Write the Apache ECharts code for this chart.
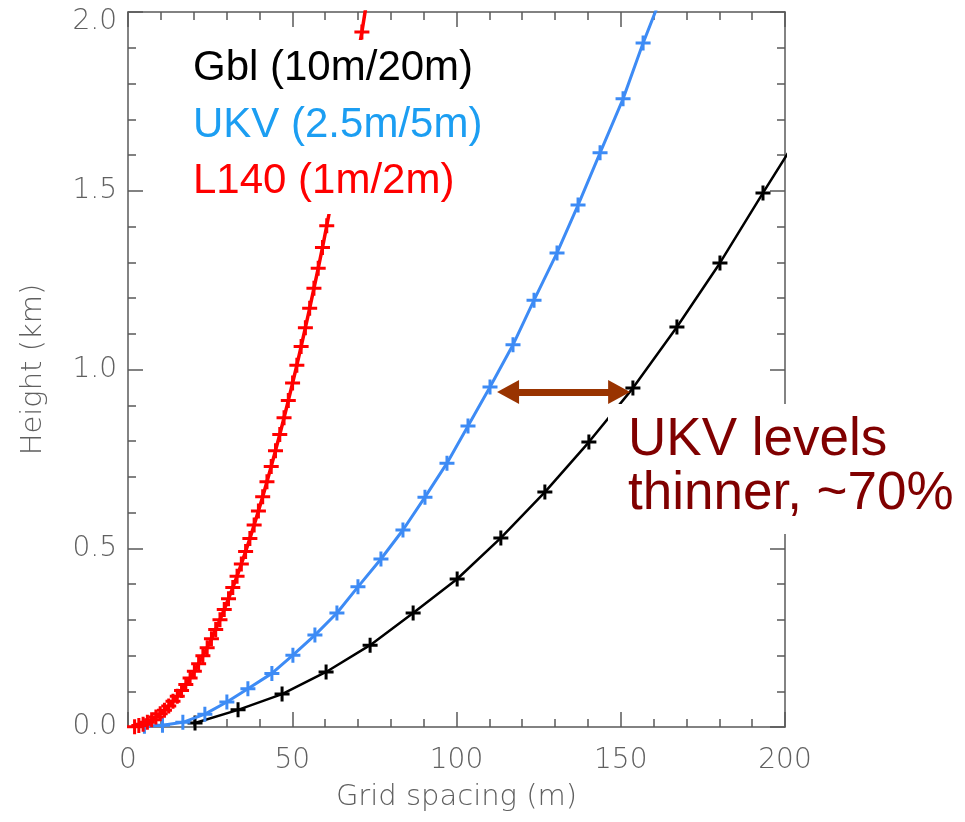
<!DOCTYPE html>
<html>
<head>
<meta charset="utf-8">
<script src="https://cdn.jsdelivr.net/npm/echarts@6/dist/echarts.min.js"></script>
<style>html,body{margin:0;padding:0;background:#fff}#c{width:965px;height:822px}</style>
</head>
<body>
<div id="c"></div>
<script>
// ---- data (grid spacing in m, height in km) ----
const gblX = [20.4, 33.5, 46.9, 60.3, 73.7, 86.8, 100.2, 113.5, 126.9, 140.3, 153.7, 167.1, 180.2, 193.3, 206.7];
const gblH = [0.011, 0.048, 0.092, 0.154, 0.229, 0.319, 0.414, 0.529, 0.657, 0.797, 0.948, 1.119, 1.298, 1.494, 1.690];

const ukvX = [5.0, 10.5, 16.7, 23.4, 30.1, 36.5, 43.8, 50.2, 56.9, 63.6, 70.0, 77.0, 83.7, 90.4, 97.1, 103.5, 110.2, 117.2, 123.6, 130.6, 137.0, 143.7, 150.7, 156.8, 163.5];
const ukvH = [0.002, 0.005, 0.013, 0.036, 0.070, 0.107, 0.150, 0.201, 0.257, 0.319, 0.392, 0.470, 0.551, 0.643, 0.738, 0.842, 0.951, 1.069, 1.194, 1.326, 1.460, 1.606, 1.757, 1.913, 2.070];

const l140X = [2.0, 3.3, 4.6, 5.9, 7.2, 8.5, 9.8, 11.1, 12.4, 13.7, 15.0, 16.3, 17.6, 18.9, 20.2, 21.5, 22.8, 24.1, 25.4, 26.7, 28.0, 29.3, 30.6, 31.9, 33.2, 34.5, 35.8, 37.1, 38.4, 39.7, 41.0, 42.3, 43.6, 44.9, 46.2, 47.5, 48.8, 50.1, 51.4, 52.7, 54.0, 55.3, 56.6, 57.9, 59.2, 60.5, 61.8, 63.1, 64.4, 65.7, 67.0, 68.3, 69.7, 71.2, 72.6];
const l140H = [0.001, 0.004, 0.008, 0.013, 0.020, 0.028, 0.037, 0.047, 0.059, 0.072, 0.086, 0.102, 0.119, 0.137, 0.156, 0.177, 0.199, 0.222, 0.247, 0.273, 0.300, 0.329, 0.359, 0.390, 0.422, 0.456, 0.491, 0.527, 0.565, 0.604, 0.644, 0.686, 0.729, 0.773, 0.818, 0.865, 0.913, 0.962, 1.012, 1.064, 1.117, 1.171, 1.227, 1.283, 1.341, 1.402, 1.463, 1.526, 1.590, 1.656, 1.722, 1.790, 1.866, 1.944, 2.025];

const xTickLabels = ['0', '50', '100', '150', '200'];
const yTickLabels = ['0.0', '0.5', '1.0', '1.5', '2.0'];

const legendLines = ['Gbl (10m/20m)', 'UKV (2.5m/5m)', 'L140 (1m/2m)'];
const noteLines = ['UKV levels', 'thinner, ~70%'];
// arrow between the UKV and Gbl curves at ~0.94 km
const arrowFrom = [115.7, 0.937];
const arrowTo = [149.5, 0.937];

// ---- chart ----
const pairs = (xs, ys) => xs.map((x, i) => [x, ys[i]]);
const plus = 'path://M40,0H60V40H100V60H60V100H40V60H0V40H40Z';
const axisCol = '#5a5a5a';
const tickFont = 'DejaVu Sans';
const tickCol = '#606060';

function baseAxis(extra) {
  return Object.assign({
    type: 'value',
    axisLine: { show: true, onZero: false, lineStyle: { color: axisCol, width: 1.5 } },
    axisTick: { show: true, inside: true, length: 15, lineStyle: { color: axisCol, width: 1.5 } },
    minorTick: { show: true, splitNumber: 5, length: 8, lineStyle: { color: axisCol, width: 1.5 } },
    splitLine: { show: false },
    minorSplitLine: { show: false }
  }, extra);
}

const chart = echarts.init(document.getElementById('c'), null, { renderer: 'canvas' });
chart.setOption({
  animation: false,
  backgroundColor: '#fff',
  grid: { left: 128, right: 180, top: 12, bottom: 95, containLabel: false },
  xAxis: [
    baseAxis({
      position: 'bottom', min: 0, max: 200, interval: 50,
      axisLabel: {
        show: true, margin: 20, fontSize: 28, fontFamily: tickFont, fontWeight: 200, color: tickCol,
        formatter: v => xTickLabels[Math.round(v / 50)]
      },
      name: 'Grid spacing (m)', nameLocation: 'middle', nameGap: 56,
      nameTextStyle: { fontSize: 29, fontFamily: tickFont, fontWeight: 200, color: tickCol }
    }),
    baseAxis({ position: 'top', min: 0, max: 200, interval: 50, axisLabel: { show: false } })
  ],
  yAxis: [
    baseAxis({
      position: 'left', min: 0, max: 2, interval: 0.5,
      axisLabel: {
        show: true, margin: 11, fontSize: 28, fontFamily: tickFont, fontWeight: 200, color: tickCol,
        formatter: v => {
          const s = yTickLabels[Math.round(v / 0.5)];
          return v >= 2 ? '{t|' + s + '}' : s;
        },
        rich: { t: { padding: [20, 0, 0, 0], fontSize: 28, fontFamily: tickFont, fontWeight: 200, color: tickCol } }
      },
      name: 'Height (km)', nameLocation: 'middle', nameGap: 80,
      nameTextStyle: { fontSize: 29, fontFamily: tickFont, fontWeight: 200, color: tickCol }
    }),
    baseAxis({ position: 'right', min: 0, max: 2, interval: 0.5, axisLabel: { show: false } })
  ],
  series: [
    {
      name: 'Gbl', type: 'line', xAxisIndex: 0, yAxisIndex: 0, data: pairs(gblX, gblH),
      symbol: plus, symbolSize: 15, showAllSymbol: true, clip: true,
      lineStyle: { color: '#000', width: 2.5 }, itemStyle: { color: '#000' }, z: 2,
      markLine: {
        silent: true, symbol: ['triangle', 'triangle'], symbolSize: [24, 22],
        label: { show: false },
        lineStyle: { color: '#993300', width: 7, type: 'solid' },
        data: [[{ coord: arrowFrom }, { coord: arrowTo }]]
      }
    },
    {
      name: 'UKV', type: 'line', xAxisIndex: 0, yAxisIndex: 0, data: pairs(ukvX, ukvH),
      symbol: plus, symbolSize: 15, showAllSymbol: true, clip: true,
      lineStyle: { color: '#3d8bf5', width: 3 }, itemStyle: { color: '#3d8bf5' }, z: 3
    },
    {
      name: 'L140', type: 'line', xAxisIndex: 0, yAxisIndex: 0, data: pairs(l140X, l140H),
      symbol: plus, symbolSize: 15, showAllSymbol: true, clip: true,
      lineStyle: { color: '#ff0000', width: 3.5 }, itemStyle: { color: '#ff0000' }, z: 4
    }
  ],
  graphic: [
    { type: 'rect', z: 100, shape: { x: 186, y: 40, width: 306, height: 174 }, style: { fill: '#fff' } },
    { type: 'text', z: 101, x: 193, y: 68, style: { text: legendLines[0], fill: '#000', fontSize: 42, fontFamily: 'Liberation Sans', verticalAlign: 'middle', align: 'left' } },
    { type: 'text', z: 101, x: 193, y: 125, style: { text: legendLines[1], fill: '#1c9ef2', fontSize: 42, fontFamily: 'Liberation Sans', verticalAlign: 'middle', align: 'left' } },
    { type: 'text', z: 101, x: 193, y: 181, style: { text: legendLines[2], fill: '#ff0000', fontSize: 42, fontFamily: 'Liberation Sans', verticalAlign: 'middle', align: 'left' } },
    { type: 'rect', z: 100, shape: { x: 608, y: 404, width: 357, height: 130 }, style: { fill: '#fff' } },
    { type: 'text', z: 101, x: 628, y: 440, style: { text: noteLines[0], fill: '#800000', fontSize: 53, fontFamily: 'Liberation Sans', verticalAlign: 'middle', align: 'left' } },
    { type: 'text', z: 101, x: 628, y: 494, style: { text: noteLines[1], fill: '#800000', fontSize: 53, fontFamily: 'Liberation Sans', verticalAlign: 'middle', align: 'left' } }
  ]
});
</script>
</body>
</html>
